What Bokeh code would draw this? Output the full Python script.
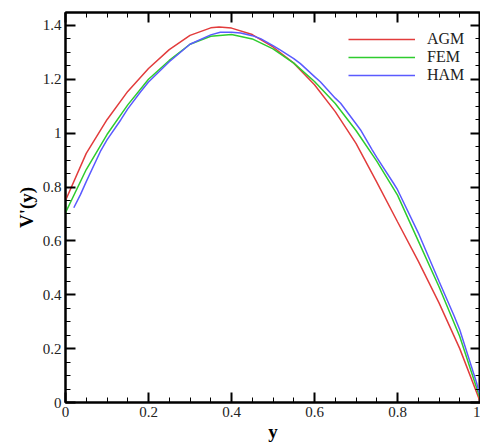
from bokeh.plotting import figure
from bokeh.models import (LinearAxis, FixedTicker, CustomJSTickFormatter, Range1d,
                          Legend, LegendItem)
from bokeh.embed import file_html
from bokeh.resources import INLINE

# ---- data ----
agm_x = [0.0, 0.05, 0.1, 0.15, 0.2, 0.25, 0.3, 0.35, 0.37, 0.4, 0.45, 0.5, 0.55,
         0.6, 0.65, 0.7, 0.75, 0.8, 0.85, 0.9, 0.95, 1.0]
agm_y = [0.75, 0.925, 1.05, 1.155, 1.24, 1.31, 1.363, 1.391, 1.394, 1.39, 1.366,
         1.32, 1.26, 1.18, 1.08, 0.962, 0.818, 0.671, 0.525, 0.37, 0.20, 0.0]

fem_x = [0.0, 0.05, 0.1, 0.15, 0.2, 0.25, 0.3, 0.35, 0.4, 0.45, 0.5, 0.55, 0.6,
         0.65, 0.7, 0.75, 0.8, 0.85, 0.9, 0.95, 1.0]
fem_y = [0.705, 0.865, 0.995, 1.105, 1.20, 1.27, 1.33, 1.36, 1.366, 1.35, 1.313,
         1.26, 1.192, 1.11, 1.01, 0.896, 0.77, 0.60, 0.43, 0.245, 0.01]

ham_x = [0.02, 0.036, 0.05, 0.084, 0.1, 0.133, 0.15, 0.181, 0.2, 0.25, 0.3, 0.35,
         0.373, 0.4, 0.422, 0.45, 0.47, 0.5, 0.518, 0.55, 0.566, 0.6, 0.614, 0.65,
         0.663, 0.7, 0.711, 0.739, 0.75, 0.79, 0.8, 0.85, 0.867, 0.9, 0.936, 0.95,
         0.99, 1.0]
ham_y = [0.723, 0.772, 0.82, 0.932, 0.975, 1.049, 1.09, 1.154, 1.19, 1.265, 1.33,
         1.365, 1.375, 1.375, 1.372, 1.362, 1.351, 1.325, 1.308, 1.277, 1.258, 1.21,
         1.191, 1.13, 1.111, 1.035, 1.012, 0.938, 0.91, 0.815, 0.79, 0.63, 0.569,
         0.45, 0.323, 0.27, 0.076, 0.02]

series_names = ["AGM", "FEM", "HAM"]
x_ticks = [0, 0.2, 0.4, 0.6, 0.8, 1.0]
y_ticks = [0, 0.2, 0.4, 0.6, 0.8, 1.0, 1.2, 1.4]
x_minor = [round(i * 0.05, 2) for i in range(0, 21)]
y_minor = [round(i * 0.05, 2) for i in range(0, 30)]

colors = ["#e23c3c", "#2ecc2e", "#5a5aff"]
SERIF = "Liberation Serif"

p = figure(width=480, height=444, output_backend="svg", toolbar_location=None,
           x_range=Range1d(0, 1), y_range=Range1d(0, 1.448),
           min_border_left=65, min_border_right=0, min_border_top=12,
           min_border_bottom=0)
p.grid.visible = False
p.outline_line_color = "black"
p.outline_line_width = 2
p.background_fill_color = "white"
p.border_fill_color = "white"

fmt = CustomJSTickFormatter(code="return Number(tick.toFixed(2)).toString();")
blank = CustomJSTickFormatter(code="return '';")

def style(ax, labels=True):
    ax.axis_line_width = 2
    ax.axis_line_color = "black"
    ax.major_tick_in = 10
    ax.major_tick_out = 0
    ax.minor_tick_in = 5
    ax.minor_tick_out = 0
    ax.major_tick_line_width = 2
    ax.minor_tick_line_width = 1
    ax.major_tick_line_color = "black"
    ax.minor_tick_line_color = "black"
    ax.major_label_text_font = SERIF
    ax.major_label_text_font_size = "15px"
    ax.major_label_text_color = "#222222"
    ax.major_label_standoff = 4 if labels else 0
    ax.axis_label_text_font = SERIF
    ax.axis_label_text_font_style = "bold"
    ax.axis_label_text_font_size = "19px"
    ax.axis_label_text_color = "black"

xb = p.xaxis[0]
xb.ticker = FixedTicker(ticks=x_ticks, minor_ticks=x_minor)
xb.formatter = fmt
xb.axis_label = "y"
xb.axis_label_standoff = 1
style(xb)

yl = p.yaxis[0]
yl.ticker = FixedTicker(ticks=y_ticks, minor_ticks=y_minor)
yl.formatter = fmt
yl.axis_label = "V'(y)"
yl.axis_label_standoff = 3
style(yl)

xt = LinearAxis(ticker=FixedTicker(ticks=x_ticks, minor_ticks=x_minor), formatter=blank)
style(xt, labels=False)
p.add_layout(xt, "above")
yr = LinearAxis(ticker=FixedTicker(ticks=y_ticks, minor_ticks=y_minor), formatter=blank)
style(yr, labels=False)
p.add_layout(yr, "right")

r1 = p.line(agm_x, agm_y, line_color=colors[0], line_width=1.5)
r2 = p.line(fem_x, fem_y, line_color=colors[1], line_width=1.5)
r3 = p.line(ham_x, ham_y, line_color=colors[2], line_width=1.5)

legend = Legend(items=[LegendItem(label=series_names[0], renderers=[r1]),
                       LegendItem(label=series_names[1], renderers=[r2]),
                       LegendItem(label=series_names[2], renderers=[r3])],
                location=(283, 318))
legend.border_line_color = None
legend.background_fill_alpha = 0
legend.padding = 0
legend.margin = 0
legend.spacing = 0
legend.glyph_width = 67
legend.glyph_height = 18
legend.label_height = 18
legend.label_standoff = 12
legend.label_text_font = SERIF
legend.label_text_font_size = "16px"
legend.label_text_color = "#222222"
p.add_layout(legend, "center")

open("out.html", "w").write(file_html(p, INLINE))
